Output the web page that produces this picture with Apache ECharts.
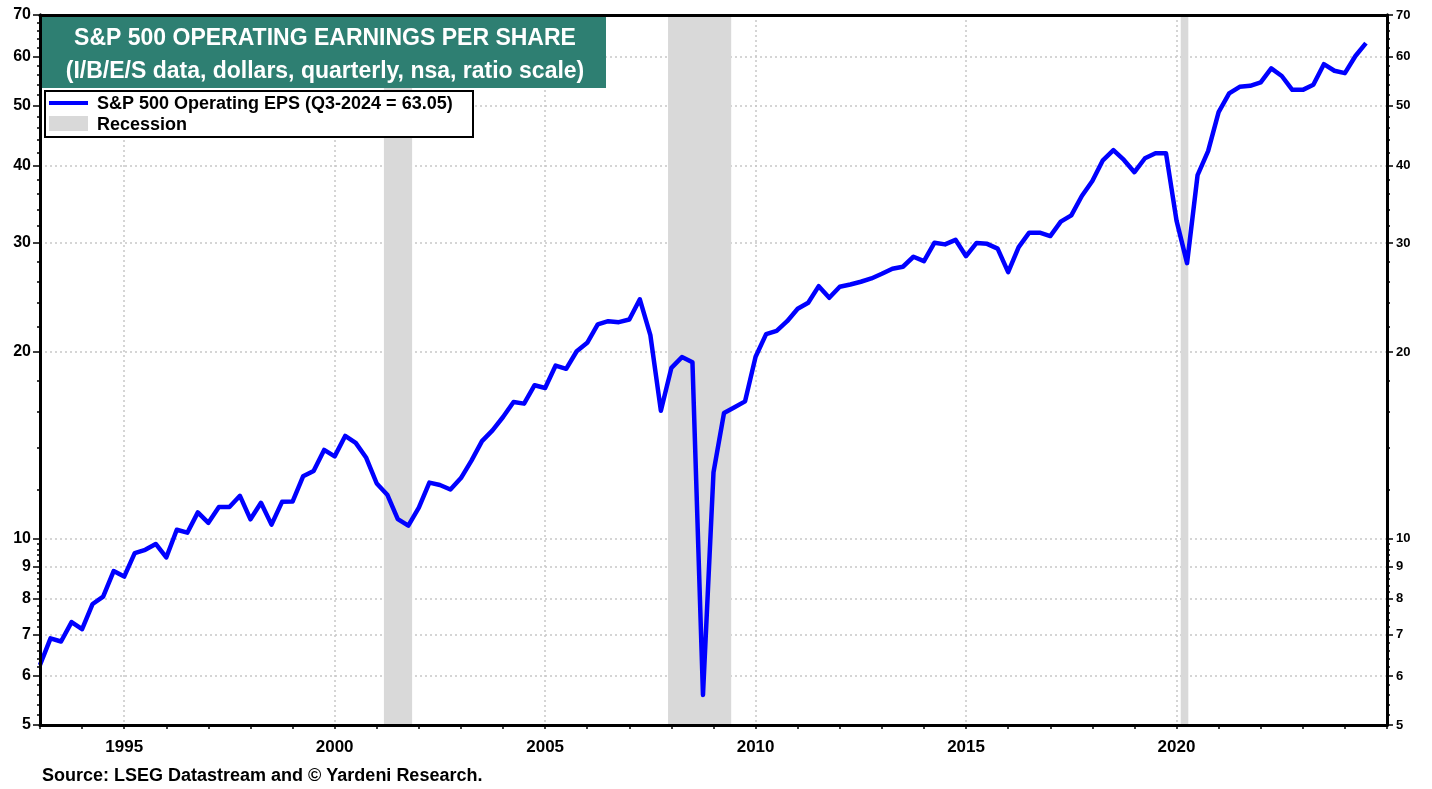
<!DOCTYPE html>
<html>
<head>
<meta charset="utf-8">
<title>S&amp;P 500 Operating Earnings Per Share</title>
<script src="https://cdn.jsdelivr.net/npm/echarts@6/dist/echarts.min.js"></script>
<style>
    html, body { margin: 0; padding: 0; background: #fff; }
    #chart { width: 1432px; height: 789px; }
</style>
</head>
<body>
<div id="chart"></div>
<script>
// ------------------------------------------------------------------------
// Data (quarterly, first point = Q1-1993)
// ------------------------------------------------------------------------
var startYear = 1993;
var eps = [
    6.25, 6.90, 6.82, 7.33,      // 1993
    7.14, 7.84, 8.06, 8.86,      // 1994
    8.68, 9.47, 9.59, 9.80,      // 1995
    9.32, 10.33, 10.22, 11.02,   // 1996
    10.60, 11.24, 11.24, 11.72,  // 1997
    10.74, 11.42, 10.53, 11.46,  // 1998
    11.47, 12.60, 12.85, 13.90,  // 1999
    13.57, 14.64, 14.27, 13.50,  // 2000
    12.27, 11.77, 10.75, 10.49,  // 2001
    11.22, 12.31, 12.20, 12.00,  // 2002
    12.52, 13.36, 14.36, 14.95,  // 2003
    15.71, 16.61, 16.51, 17.68,  // 2004
    17.50, 19.02, 18.79, 20.06,  // 2005
    20.70, 22.16, 22.43, 22.35,  // 2006
    22.57, 24.33, 21.30, 16.08,  // 2007
    18.86, 19.63, 19.25, 5.59,   // 2008
    12.79, 15.95, 16.29, 16.65,  // 2009
    19.65, 21.38, 21.64, 22.43,  // 2010
    23.49, 24.02, 25.55, 24.47,  // 2011
    25.50, 25.71, 25.97, 26.29,  // 2012
    26.75, 27.26, 27.46, 28.50,  // 2013
    28.04, 30.03, 29.84, 30.35,  // 2014
    28.56, 30.00, 29.90, 29.37,  // 2015
    26.92, 29.54, 31.17, 31.17,  // 2016
    30.78, 32.47, 33.24, 35.72,  // 2017
    37.76, 40.79, 42.37, 40.84,  // 2018
    39.03, 41.10, 41.87, 41.87,  // 2019
    32.60, 27.83, 38.60, 42.20,  // 2020
    48.80, 52.30, 53.60, 53.80,  // 2021
    54.50, 57.40, 55.80, 53.00,  // 2022
    53.00, 54.00, 58.30, 56.90,  // 2023
    56.40, 60.10, 63.05          // 2024
];

// recession periods (decimal years)
var recessionStarts = [2001.17, 2007.92, 2020.10];
var recessionEnds   = [2001.84, 2009.42, 2020.28];

// axis ticks / labels
var yearLabels = [1995, 2000, 2005, 2010, 2015, 2020];
var yearTicks = [];
for (var yr = 1993; yr <= 2025; yr++) yearTicks.push(yr);
var yMajor = [5, 6, 7, 8, 9, 10, 20, 30, 40, 50, 60, 70];
var yMinor = [
    5.2, 5.4, 5.6, 5.8, 6.2, 6.4, 6.6, 6.8, 7.2, 7.4, 7.6, 7.8,
    8.2, 8.4, 8.6, 8.8, 9.2, 9.4, 9.6, 9.8,
    12, 14, 16, 18, 22, 24, 26, 28, 32, 34, 36, 38,
    42, 44, 46, 48, 52, 54, 56, 58, 62, 64, 66, 68
];

// ------------------------------------------------------------------------
// Chart
// ------------------------------------------------------------------------
var FONT = '"Liberation Sans", Arial, sans-serif';
var GRID_LINE = { color: '#c8c8c8', width: 1.5, type: [2, 3] };
var chart = echarts.init(document.getElementById('chart'));

var points = eps.map(function (v, i) { return [startYear + i / 4, v]; });
var recessionAreas = recessionStarts.map(function (s, i) {
    return [{ xAxis: s }, { xAxis: recessionEnds[i] }];
});

// border / tick / label axis (drawn above the shading)
function yAxisCfg(pos, values, tickLen, showLabel, fontSize) {
    return {
        type: 'log', logBase: 10, min: 5, max: 70, position: pos, z: 10,
        axisLine: { show: true, lineStyle: { color: '#000', width: 3 } },
        axisTick: { show: true, inside: false, length: tickLen, customValues: values,
                    lineStyle: { color: '#000', width: 1.5 } },
        axisLabel: { show: showLabel, customValues: values, margin: 9,
                     color: '#000', fontWeight: 'bold', fontFamily: FONT, fontSize: fontSize,
                     formatter: function (v) { return String(Math.round(v)); } },
        splitLine: { show: false }
    };
}

var option = {
    animation: false,
    backgroundColor: '#fff',
    grid: { left: 40, right: 45, top: 15, bottom: 64 },
    xAxis: [{
        type: 'value', min: 1993, max: 2025, position: 'bottom', z: 10,
        axisLine: { show: true, lineStyle: { color: '#000', width: 3 } },
        axisTick: { show: true, length: 4, customValues: yearTicks, lineStyle: { color: '#000', width: 1.5 } },
        axisLabel: { customValues: yearLabels, margin: 14, color: '#000', fontWeight: 'bold',
                     fontFamily: FONT, fontSize: 17, formatter: function (v) { return String(v); } },
        splitLine: { show: false }
    }, {
        type: 'value', min: 1993, max: 2025, position: 'top', z: 10,
        axisLine: { show: true, lineStyle: { color: '#000', width: 3 } },
        axisTick: { show: false }, axisLabel: { show: false }, splitLine: { show: false }
    }, {
        // vertical dotted grid lines only
        type: 'value', min: 1993, max: 2025, position: 'bottom', z: 0,
        axisLine: { show: false }, axisLabel: { show: false },
        axisTick: { show: false, customValues: yearLabels },
        splitLine: { show: true, lineStyle: GRID_LINE }
    }],
    yAxis: [
        yAxisCfg('left', yMajor, 7, true, 16),
        yAxisCfg('left', yMinor, 3, false, 16),
        yAxisCfg('right', yMajor, 6, true, 13),
        yAxisCfg('right', yMinor, 3, false, 13),
        {
            // horizontal dotted grid lines only
            type: 'log', logBase: 10, min: 5, max: 70, position: 'left', z: 0,
            axisLine: { show: false }, axisLabel: { show: false },
            axisTick: { show: false, customValues: yMajor },
            splitLine: { show: true, lineStyle: GRID_LINE }
        }
    ],
    series: [{
        name: 'Recession', type: 'line', data: [], z: 1,
        xAxisIndex: 0, yAxisIndex: 0,
        markArea: { silent: true, itemStyle: { color: '#d9d9d9' }, data: recessionAreas }
    }, {
        name: 'S&P 500 Operating EPS', type: 'line', data: points, z: 5,
        xAxisIndex: 0, yAxisIndex: 0,
        showSymbol: false, smooth: false,
        lineStyle: { color: '#0000ff', width: 4.5, join: 'round' }
    }],
    graphic: [
        // title box
        { type: 'rect', left: 42, top: 17, z: 100,
          shape: { width: 564, height: 71 }, style: { fill: '#2e7f72' } },
        { type: 'text', x: 325, y: 39, z: 101,
          style: { text: 'S&P 500 OPERATING EARNINGS PER SHARE', fill: '#fff',
                   font: 'bold 23px ' + FONT, textAlign: 'center', textVerticalAlign: 'middle',
                   align: 'center', verticalAlign: 'middle' } },
        { type: 'text', x: 325, y: 72, z: 101,
          style: { text: '(I/B/E/S data, dollars, quarterly, nsa, ratio scale)', fill: '#fff',
                   font: 'bold 23px ' + FONT, textAlign: 'center', textVerticalAlign: 'middle',
                   align: 'center', verticalAlign: 'middle' } },
        // legend box
        { type: 'rect', left: 44, top: 90, z: 100,
          shape: { width: 428, height: 46 }, style: { fill: '#fff', stroke: '#000', lineWidth: 2 } },
        { type: 'rect', left: 49, top: 101, z: 101,
          shape: { width: 39, height: 4 }, style: { fill: '#0000ff' } },
        { type: 'text', x: 97, y: 104, z: 101,
          style: { text: 'S&P 500 Operating EPS (Q3-2024 = 63.05)', fill: '#000',
                   font: 'bold 18px ' + FONT, textVerticalAlign: 'middle', verticalAlign: 'middle' } },
        { type: 'rect', left: 49, top: 116, z: 101,
          shape: { width: 39, height: 15 }, style: { fill: '#d9d9d9' } },
        { type: 'text', x: 97, y: 125, z: 101,
          style: { text: 'Recession', fill: '#000',
                   font: 'bold 18px ' + FONT, textVerticalAlign: 'middle', verticalAlign: 'middle' } },
        // source
        { type: 'text', x: 42, y: 776, z: 101,
          style: { text: 'Source: LSEG Datastream and \u00A9 Yardeni Research.', fill: '#000',
                   font: 'bold 18px ' + FONT, textVerticalAlign: 'middle', verticalAlign: 'middle' } }
    ]
};

chart.setOption(option);
window.addEventListener('resize', function () { chart.resize(); });
</script>
</body>
</html>
